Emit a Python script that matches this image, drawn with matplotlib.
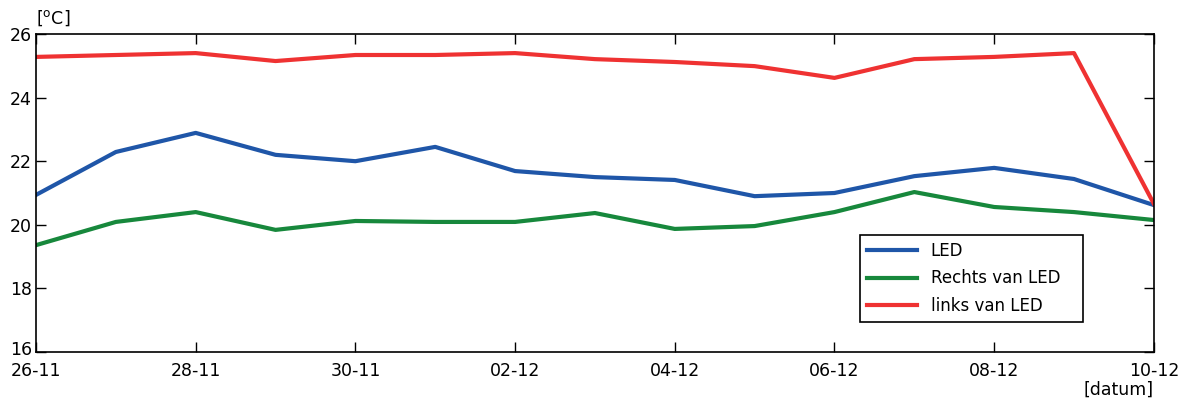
import numpy as np
import matplotlib
matplotlib.use("Agg")
import matplotlib.pyplot as plt
import matplotlib.transforms as mtransforms

days = ["26-11", "27-11", "28-11", "29-11", "30-11", "01-12", "02-12", "03-12",
        "04-12", "05-12", "06-12", "07-12", "08-12", "09-12", "10-12"]
led = [20.94, 22.29, 22.89, 22.20, 22.00, 22.45, 21.69, 21.50,
       21.41, 20.90, 21.00, 21.53, 21.79, 21.44, 20.62]
rechts = [19.36, 20.09, 20.40, 19.84, 20.12, 20.09, 20.09, 20.37,
          19.87, 19.96, 20.40, 21.03, 20.56, 20.40, 20.15]
links = [25.28, 25.34, 25.40, 25.15, 25.34, 25.34, 25.40, 25.21,
         25.12, 24.99, 24.62, 25.21, 25.28, 25.40, 20.66]

x = np.arange(len(days))

plt.rcParams["font.family"] = "DejaVu Sans"
fig = plt.figure(figsize=(11.92, 4.03), dpi=100)
ax = fig.add_axes([0.0302, 0.1266, 0.9378, 0.789])

ax.plot(x, led, color="#1f56a8", lw=3, label="LED")
ax.plot(x, rechts, color="#17883c", lw=3, label="Rechts van LED")
ax.plot(x, links, color="#ef3232", lw=3, label="links van LED")

ax.set_xlim(0, len(days) - 1)
ax.set_ylim(16, 26)
ax.set_xticks(x[::2])
ax.set_xticklabels(days[::2])
ax.set_yticks([16, 18, 20, 22, 24, 26])
ax.tick_params(direction="in", length=7, width=1, top=True, right=True,
               labelsize=12.5)
ax.tick_params(axis="x", pad=7)
ax.tick_params(axis="y", pad=3)
for s in ax.spines.values():
    s.set_linewidth(1.2)

# nudge the lowest y label up a little so it clears the first date
fig.canvas.draw()
lbl = ax.get_yticklabels()[0]
lbl.set_transform(lbl.get_transform() +
                  mtransforms.ScaledTranslation(0, 3 / 72, fig.dpi_scale_trans))

ax.text(0, 1.02, "[$\\mathregular{^o}$C]", transform=ax.transAxes,
        fontsize=12.5, ha="left", va="bottom")
ax.text(1.0, -0.092, "[datum]", transform=ax.transAxes,
        fontsize=12.5, ha="right", va="top")

leg = ax.legend(loc="lower left", bbox_to_anchor=(0.737, 0.094, 0.2, 0.27),
                mode="expand", fontsize=12, fancybox=False, framealpha=1,
                edgecolor="black", borderaxespad=0, handlelength=3.0,
                labelspacing=0.55, borderpad=0.45)
leg.get_frame().set_linewidth(1.2)

plt.savefig("out.png", dpi=100)
